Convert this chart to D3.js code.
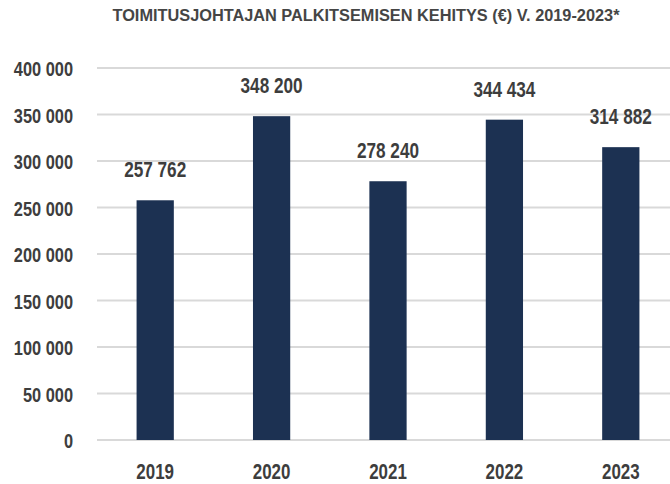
<!DOCTYPE html>
<html>
<head>
<meta charset="utf-8">
<script src="https://cdn.jsdelivr.net/npm/d3@7"></script>
<style>
  body { margin: 0; background: #fff; }
  svg text { font-family: 'Liberation Sans', Arial, sans-serif; font-weight: bold; fill: #3d3d3d; }
</style>
</head>
<body>
<div id="chart"></div>
<script>
const years = [ '2019', '2020', '2021', '2022', '2023' ];
const pay = [ 257762, 348200, 278240, 344434, 314882 ];
const yTicks = [ 0, 50000, 100000, 150000, 200000, 250000, 300000, 350000, 400000 ];
const chartTitle = 'TOIMITUSJOHTAJAN PALKITSEMISEN KEHITYS (€) V. 2019-2023*';

const figure_width = 670, figure_height = 484;
const margin = { top: 68, right: -9, bottom: 44, left: 97 };
const plot_width = figure_width - margin.left - margin.right;
const plot_height = figure_height - margin.top - margin.bottom;

// thousands separated by a space, like the original
const fmt = v => d3.format( ',' )( v ).replace( /,/g, ' ' );

// no condensed font installed, so squeeze the glyphs horizontally
function condense( sel, k ) {
  sel.each( function() {
    const w = this.getComputedTextLength();
    d3.select( this )
      .attr( 'textLength', w * k )
      .attr( 'lengthAdjust', 'spacingAndGlyphs' );
  } );
}

const svg = d3.select( '#chart' )
  .append( 'svg' )
    .attr( 'width', figure_width )
    .attr( 'height', figure_height );

const g = svg.append( 'g' )
  .attr( 'transform', 'translate(' + margin.left + ',' + margin.top + ')' );

const x = d3.scaleBand()
  .domain( years )
  .range( [ 0, plot_width ] )
  .paddingInner( 0.68 )
  .paddingOuter( 0.34 );

const y = d3.scaleLinear()
  .domain( [ 0, 400000 ] )
  .range( [ plot_height, 0 ] );

// gridlines
g.selectAll( 'line.grid' )
  .data( yTicks )
  .enter().append( 'line' )
    .attr( 'class', 'grid' )
    .attr( 'x1', 0 )
    .attr( 'x2', plot_width )
    .attr( 'y1', d => y( d ) )
    .attr( 'y2', d => y( d ) )
    .attr( 'stroke', '#d9d9d9' )
    .attr( 'stroke-width', 2 );

// y axis labels
const yAxis = g.append( 'g' )
  .call( d3.axisLeft( y ).tickValues( yTicks ).tickFormat( fmt ).tickSize( 0 ).tickPadding( 24 ) );
yAxis.select( '.domain' ).remove();
yAxis.attr( 'font-family', null ).attr( 'font-size', null );
yAxis.selectAll( 'text' )
  .style( 'font-size', '21px' )
  .attr( 'fill', null )
  .attr( 'dy', '0.36em' )
  .call( condense, 0.78 );

// bars
const data = years.map( ( yr, i ) => ( { year: yr, value: pay[ i ] } ) );
g.selectAll( 'rect' )
  .data( data )
  .enter().append( 'rect' )
    .attr( 'x', d => x( d.year ) )
    .attr( 'y', d => y( d.value ) )
    .attr( 'width', x.bandwidth() )
    .attr( 'height', d => plot_height - y( d.value ) )
    .attr( 'fill', '#1c3152' );

// value labels
g.selectAll( 'text.val' )
  .data( data )
  .enter().append( 'text' )
    .attr( 'class', 'val' )
    .attr( 'x', d => x( d.year ) + x.bandwidth() / 2 )
    .attr( 'y', d => y( d.value ) - 23 )
    .attr( 'text-anchor', 'middle' )
    .style( 'font-size', '22px' )
    .text( d => fmt( d.value ) )
    .call( condense, 0.78 );

// x axis labels
const xAxis = g.append( 'g' )
  .attr( 'transform', 'translate(0,' + plot_height + ')' )
  .call( d3.axisBottom( x ).tickSize( 0 ).tickPadding( 23 ) );
xAxis.select( '.domain' ).remove();
xAxis.attr( 'font-family', null ).attr( 'font-size', null );
xAxis.selectAll( 'text' )
  .style( 'font-size', '22px' )
  .attr( 'fill', null )
  .call( condense, 0.77 );

// title
svg.append( 'text' )
  .attr( 'x', 366 )
  .attr( 'y', 21 )
  .attr( 'text-anchor', 'middle' )
  .style( 'font-size', '16px' )
  .style( 'fill', '#454545' )
  .attr( 'textLength', 507 )
  .attr( 'lengthAdjust', 'spacingAndGlyphs' )
  .text( chartTitle );
</script>
</body>
</html>
